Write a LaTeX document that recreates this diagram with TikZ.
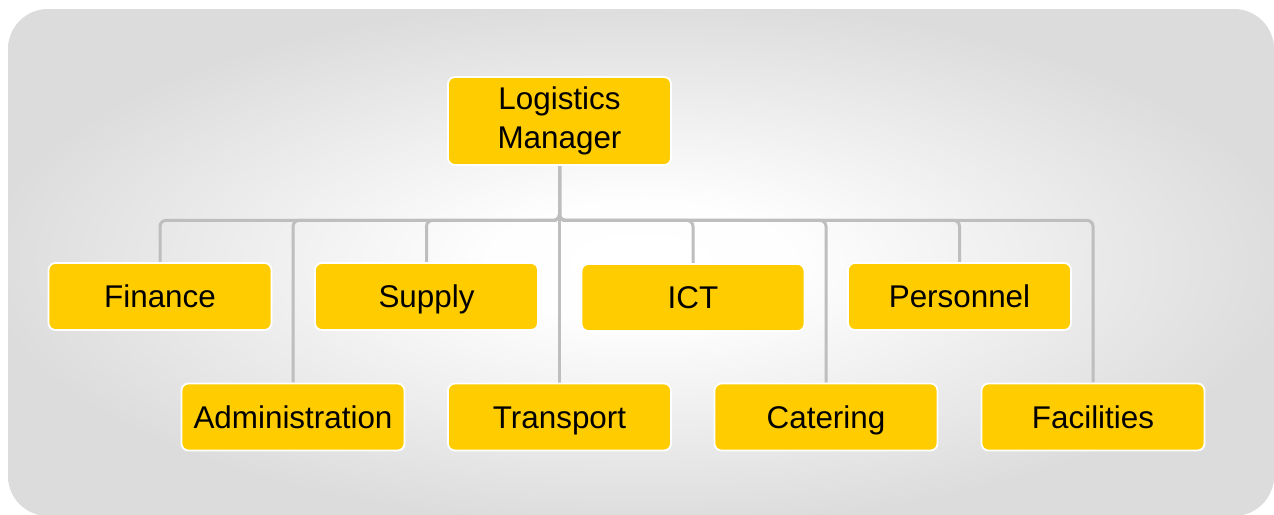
\documentclass[tikz,border=0pt]{standalone}
\usepackage{fontspec}
\setmainfont{Liberation Sans}
\definecolor{bggray}{RGB}{220,220,220}
\definecolor{boxyellow}{RGB}{255,204,0}
\definecolor{linegray}{RGB}{190,190,190}
\pgfdeclareradialshading{bgshade}{\pgfpoint{0bp}{0bp}}{color(0bp)=(white); color(6bp)=(white!97!bggray); color(26bp)=(bggray); color(50bp)=(bggray)}
\pgfdeclarelayer{bglayer}
\pgfdeclarelayer{linelayer}
\pgfsetlayers{bglayer,linelayer,main}
\begin{document}
\begin{tikzpicture}[x=1pt,y=-1pt,
  boxbase/.style={draw=white, line width=1.8pt, fill=boxyellow, rounded corners=7pt,
    minimum width=223pt, minimum height=67pt, inner sep=0pt, align=center,
    font=\fontsize{31.4}{37.7}\selectfont, text=black},
  box/.style={boxbase, text height=24pt, text depth=2pt},
  mgrbox/.style={boxbase, minimum height=88pt},
  conn/.style={draw=linegray, line width=3pt, rounded corners=6pt}]
\useasboundingbox (0,0) rectangle (1274,514);
\begin{pgfonlayer}{bglayer}
\clip (0,0) rectangle (1274,514);
\path[shading=bgshade, rounded corners=40pt] (8,9) rectangle (1274,516);
\end{pgfonlayer}
\node[mgrbox] (mgr) at (559.5,121) {Logistics\\[1pt]Manager};
\node[box] (fin) at (160,296.5) {Finance};
\node[box] (sup) at (426.5,296.5) {Supply};
\node[box] (ict) at (693,297.5) {ICT};
\node[box] (per) at (959.5,296.5) {Personnel};
\node[box] (adm) at (293,417) {Administration};
\node[box] (tra) at (559.5,417) {Transport};
\node[box] (cat) at (826,417) {Catering};
\node[box] (fac) at (1093,417) {Facilities};
\begin{pgfonlayer}{linelayer}
\foreach \c in {fin,sup,ict,per,adm,cat,fac}{
  \path[conn] (mgr.south) -- ++(0,54.5) -| (\c.north);
}
\path[conn] (mgr.south) -- (tra.north);
\end{pgfonlayer}
\end{tikzpicture}
\end{document}
